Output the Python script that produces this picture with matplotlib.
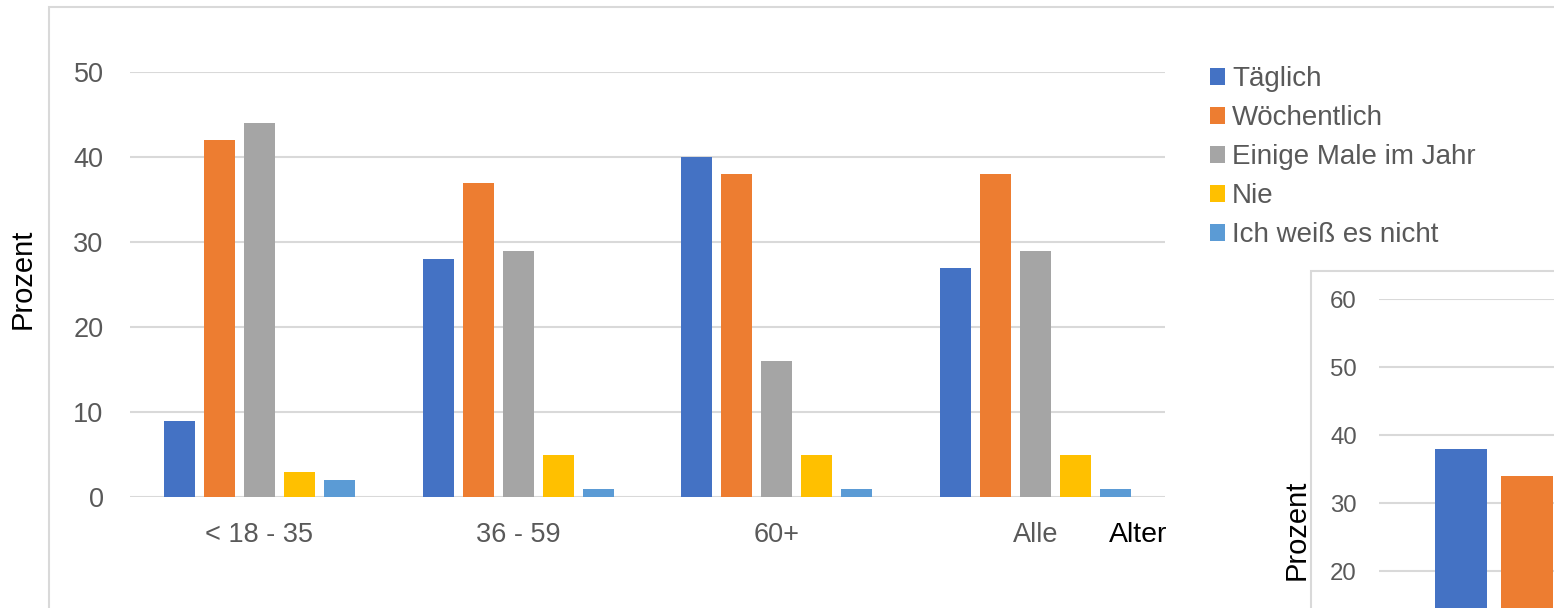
import numpy as np
import matplotlib
matplotlib.use("Agg")
import matplotlib.pyplot as plt
from matplotlib.patches import Rectangle

plt.rcParams['font.family'] = ['Liberation Sans', 'DejaVu Sans']

# Daten
altersgruppen = ['< 18 - 35', '36 - 59', '60+', 'Alle']
antworten = ['Täglich', 'Wöchentlich', 'Einige Male im Jahr', 'Nie', 'Ich weiß es nicht']
taeglich = [9, 28, 40, 27]
woechentlich = [42, 37, 38, 38]
einige_male = [44, 29, 16, 29]
nie = [3, 5, 5, 5]
weiss_nicht = [2, 1, 1, 1]

# zweites Diagramm (nur teilweise sichtbar)
inset_antworten = ['Täglich', 'Wöchentlich']
inset_werte = [38, 34]

farben = ['#4472C4', '#ED7D31', '#A5A5A5', '#FFC000', '#5B9BD5']
grau_text = '#595959'
grau_linie = '#D9D9D9'

W, H = 1554, 608
fig = plt.figure(figsize=(W / 100, H / 100), dpi=100)


def fx(px):
    return px / W


def fy(py):
    return 1 - py / H


# Rahmen des Hauptdiagramms
fig.add_artist(Rectangle((fx(49), fy(700)), 1.2, fy(7) - fy(700),
                         transform=fig.transFigure, facecolor='white',
                         edgecolor=grau_linie, lw=1.5, zorder=0))

ax = fig.add_axes([fx(130), fy(497), fx(1165) - fx(130), fy(72) - fy(497)])
ax.set_zorder(1)
serien = [taeglich, woechentlich, einige_male, nie, weiss_nicht]
x = np.arange(len(altersgruppen))
slot = 0.1546
breite = 0.12
for i, (werte, farbe, name) in enumerate(zip(serien, farben, antworten)):
    ax.bar(x + (i - 2) * slot, werte, breite, color=farbe, label=name, zorder=3)

ax.set_xlim(-0.5, 3.5)
ax.set_ylim(0, 50)
ax.set_yticks(range(0, 51, 10))
ax.set_xticks(x)
ax.set_xticklabels(altersgruppen)
ax.yaxis.grid(True, color=grau_linie, lw=1.5)
ax.set_axisbelow(True)
for s in ax.spines.values():
    s.set_visible(False)
ax.tick_params(axis='both', length=0, labelsize=19.5, labelcolor=grau_text)
ax.tick_params(axis='y', pad=19)
ax.tick_params(axis='x', pad=18)
ax.patch.set_alpha(0)

fig.text(fx(23), fy(279), 'Prozent', rotation=90, ha='center', va='center', fontsize=21)
fig.text(fx(1138), fy(535), 'Alter', ha='center', va='center', fontsize=20.5)

handles, labels = ax.get_legend_handles_labels()
leg = fig.legend(handles, labels, loc='upper left', bbox_to_anchor=(fx(1210), fy(66)),
                 frameon=False, fontsize=20, handlelength=0.55, handleheight=0.55,
                 handletextpad=0.25, labelspacing=0.47, borderpad=0, borderaxespad=0)
for t in leg.get_texts():
    t.set_color(grau_text)

# Rahmen und Achsen des zweiten Diagramms
fig.add_artist(Rectangle((fx(1311), fy(800)), 1.0, fy(271) - fy(800),
                         transform=fig.transFigure, facecolor='white',
                         edgecolor=grau_linie, lw=1.5, zorder=2))

ax2 = fig.add_axes([fx(1379), fy(707.5), fx(1808) - fx(1379), fy(299) - fy(707.5)])
ax2.set_zorder(3)
for i, (wert, name) in enumerate(zip(inset_werte, inset_antworten)):
    ax2.bar((i - 2) * slot, wert, breite, color=farben[i], zorder=3)
ax2.set_xlim(-0.5, 0.5)
ax2.set_ylim(0, 60)
ax2.set_yticks(range(20, 61, 10))
ax2.set_xticks([])
ax2.yaxis.grid(True, color=grau_linie, lw=1.5)
ax2.set_axisbelow(True)
for s in ax2.spines.values():
    s.set_visible(False)
ax2.tick_params(axis='y', length=0, labelsize=17.3, labelcolor=grau_text, pad=16)
ax2.patch.set_alpha(0)
fig.text(fx(1297), fy(530), 'Prozent', rotation=90, ha='center', va='center', fontsize=21)

fig.savefig('out.png', dpi=100)
